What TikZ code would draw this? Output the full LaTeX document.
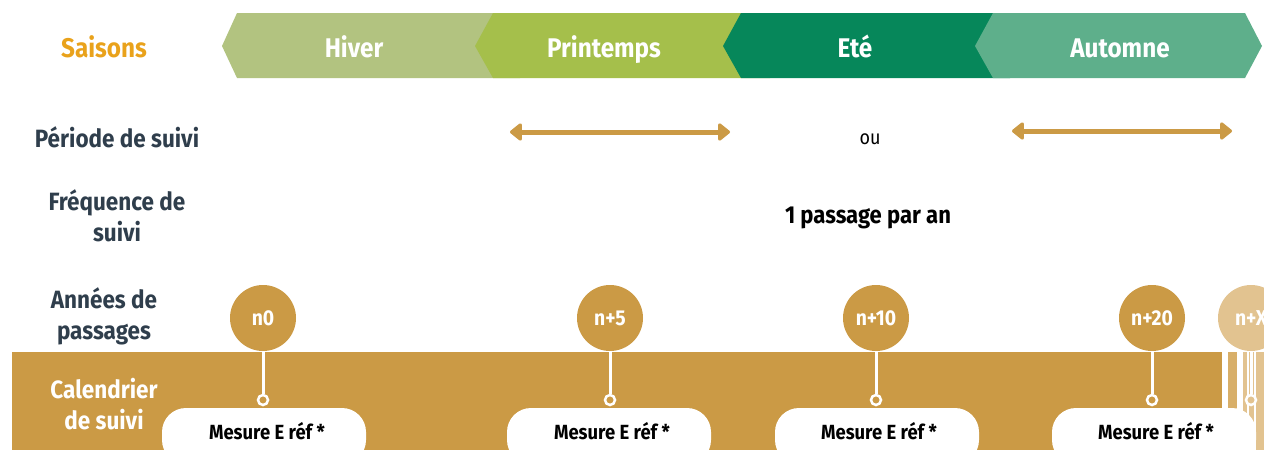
\documentclass[tikz,border=0pt]{standalone}
\usepackage{fontspec}
\newfontfamily\cf[FakeStretch=0.9]{Fira Sans}
\usetikzlibrary{arrows.meta}
\definecolor{hiver}{HTML}{B2C380}
\definecolor{printemps}{HTML}{A5BF4B}
\definecolor{ete}{HTML}{06875A}
\definecolor{automne}{HTML}{5EAF8B}
\definecolor{saison}{HTML}{E9A21B}
\definecolor{gold}{HTML}{CB9A45}
\definecolor{goldmid}{HTML}{D8AF69}
\definecolor{goldlight}{HTML}{E2C390}
\definecolor{slate}{HTML}{2F3E4C}
\tikzset{
  seasontxt/.style={anchor=base,text=white,font=\cf\bfseries\fontsize{27}{32}\selectfont},
  rowlabel/.style={text=slate,align=center,font=\cf\bfseries\fontsize{25}{31}\selectfont},
  yearcirc/.style={circle,fill=gold,minimum size=66pt,inner sep=0pt,text=white,font=\cf\bfseries\fontsize{21.5}{25}\selectfont},
  ringnode/.style={circle,draw=white,line width=2.5pt,fill=gold,minimum size=10pt,inner sep=0pt},
  conn/.style={white,line width=3pt},
  pill/.style={fill=white,rounded corners=24pt,minimum width=204pt,minimum height=56pt,inner sep=0pt},
  pilltxt/.style={anchor=base,text=black,font=\cf\bfseries\fontsize{20.5}{25}\selectfont},
  period/.style={draw=gold,line width=5pt,{Triangle[round,width=20pt,length=13pt]}-{Triangle[round,width=20pt,length=13pt]}}
}
\begin{document}
\begin{tikzpicture}[x=1pt,y=-1pt]
\useasboundingbox (0,0) rectangle (1264,450);
\clip (0,0) rectangle (1264,450);
% seasons
\fill[hiver] (222,46) -- (237,13) -- (520,13) -- (520,78) -- (237,78) -- cycle;
\fill[printemps] (475,46) -- (493,13) -- (770,13) -- (770,78) -- (493,78) -- cycle;
\fill[ete] (723,46) -- (741,13) -- (1010,13) -- (1010,78) -- (741,78) -- cycle;
\fill[automne] (975,46) -- (993,13) -- (1245,13) -- (1262,46) -- (1245,78) -- (993,78) -- cycle;
\node[seasontxt,text=saison] (saisons) at (104,57.5) {Saisons};
\node[seasontxt] (hiv) at (354,57.5) {Hiver};
\node[seasontxt] (pri) at (604,57.5) {Printemps};
\node[seasontxt] (ete) at (855,57.5) {Eté};
\node[seasontxt] (aut) at (1120,57.5) {Automne};
% row labels
\node[rowlabel] (lper) at (117,137) {Période de suivi};
\node[rowlabel] (lfre) at (117,216) {Fréquence de\\suivi};
% period arrows
\coordinate (a1l) at (510,132);
\coordinate (a1r) at (730,132);
\coordinate (a2l) at (1012,131);
\coordinate (a2r) at (1232,131);
\draw[period] (a1l) -- (a1r);
\draw[period] (a2l) -- (a2r);
\node[anchor=base,text=black,font=\cf\fontsize{20}{24}\selectfont] (ou) at (870,144) {ou};
\node[anchor=base,text=black,font=\cf\bfseries\fontsize{24.5}{29}\selectfont] (freq) at (868,223) {1 passage par an};
% band
\fill[gold] (12,352) rectangle (1222,450);
\fill[goldmid] (1228,352) rectangle (1237,450);
\fill[goldlight] (1243,352) rectangle (1264,450);
\fill[white] (1247,352) rectangle (1248.5,450);
\fill[white] (1254,352) rectangle (1255.5,450);
\node[rowlabel] (lann) at (104,316) {Années de\\passages};
\node[rowlabel,text=white] (lcal) at (104,404) {Calendrier\\de suivi};
% years
\node[yearcirc] (c0) at (263,318) {n0};
\node[yearcirc] (c5) at (610,318) {n+5};
\node[yearcirc] (c10) at (876,318) {n+10};
\node[yearcirc] (c20) at (1152,318) {n+20};
\node[yearcirc,fill=goldlight] (cx) at (1251,318) {n+X};
\node[ringnode] (r0) at (263,400) {};
\node[ringnode] (r5) at (610,400) {};
\node[ringnode] (r10) at (876,400) {};
\node[ringnode] (r20) at (1152,400) {};
\node[ringnode,fill=goldlight] (rx) at (1251,400) {};
\draw[conn] (c0.south) -- (r0.north);
\draw[conn] (c5.south) -- (r5.north);
\draw[conn] (c10.south) -- (r10.north);
\draw[conn] (c20.south) -- (r20.north);
\draw[conn] (cx.south) -- (rx.north);
% pills
\node[pill] (p0) at (264,436) {};
\node[pill] (p5) at (609,436) {};
\node[pill] (p10) at (877,436) {};
\node[pill] (p20) at (1154,436) {};
\node[pilltxt] (t0) at (267,439) {Mesure E réf *};
\node[pilltxt] (t5) at (612,439) {Mesure E réf *};
\node[pilltxt] (t10) at (879,439) {Mesure E réf *};
\node[pilltxt] (t20) at (1156,439) {Mesure E réf *};
\end{tikzpicture}
\end{document}
